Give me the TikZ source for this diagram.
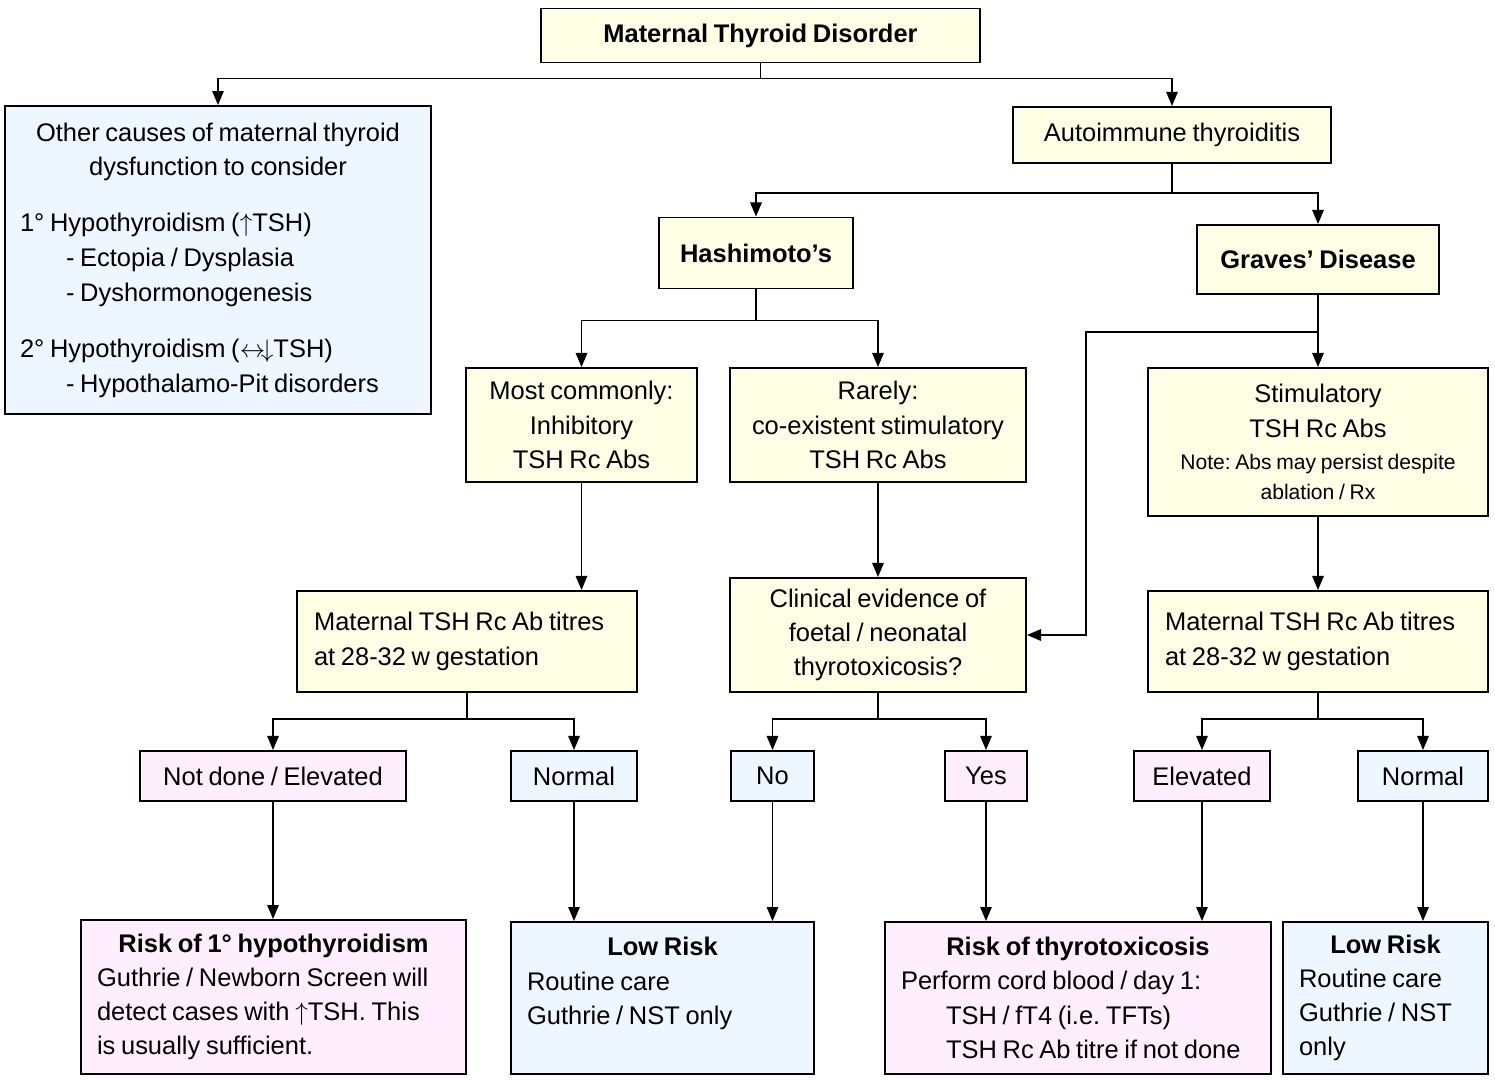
\documentclass[tikz,border=0pt]{standalone}
\usepackage{fontspec}
\setmainfont[WordSpace=0.8]{Liberation Sans}
\usetikzlibrary{arrows.meta}
\frenchspacing

\definecolor{ybg}{HTML}{FFFFE6}
\definecolor{bbg}{HTML}{EEF6FF}
\definecolor{pbg}{HTML}{FFEEFB}
\newcommand{\notefont}{\fontsize{12pt}{16pt}\selectfont}
\newcommand{\up}{$\uparrow$}

\begin{document}
\begin{tikzpicture}[x=0.02cm, y=-0.02cm,
    every node/.style={font=\fontsize{14.5pt}{19.5pt}\selectfont, inner sep=2pt},
    yellowbox/.style={draw, line width=1.1pt, fill=ybg, align=center},
    bluebox/.style={draw, line width=1.1pt, fill=bbg, align=center},
    pinkbox/.style={draw, line width=1.1pt, fill=pbg, align=center},
    lefttext/.style={align=flush left, execute at begin node={\spaceskip=0pt\xspaceskip=0pt\relax}},
    arr/.style={line width=0.9pt, -{Triangle[length=8pt, width=6.5pt]}},
    ln/.style={line width=0.9pt}]
\useasboundingbox (0,0) rectangle (1495,1079);

% top level
\node[yellowbox, minimum width=8.78cm, minimum height=1.08cm] (mtd) at (760.5,35.5) {\textbf{Maternal Thyroid Disorder}};
\node[bluebox, lefttext, minimum width=8.52cm, minimum height=6.16cm, text width=7.92cm,
      font=\fontsize{14.5pt}{19.8pt}\selectfont] (other) at (218,260) {%
    \makebox[\linewidth]{Other causes of maternal thyroid}\\
    \makebox[\linewidth]{dysfunction to consider}\\[12pt]
    1° Hypothyroidism (\up TSH)\\
    \hspace*{0.92cm}- Ectopia / Dysplasia\\
    \hspace*{0.92cm}- Dyshormonogenesis\\[12pt]
    2° Hypothyroidism ($\leftrightarrow\!\downarrow$TSH)\\
    \hspace*{0.92cm}- Hypothalamo-Pit disorders};
\node[yellowbox, minimum width=6.36cm, minimum height=1.12cm] (auto) at (1172,135) {Autoimmune thyroiditis};

% Hashimoto / Graves
\node[yellowbox, minimum width=3.88cm, minimum height=1.42cm] (hash) at (756,253) {\textbf{Hashimoto’s}};
\node[yellowbox, minimum width=4.84cm, minimum height=1.38cm] (graves) at (1318,259.5) {\textbf{Graves’ Disease}};

\node[yellowbox, minimum width=4.62cm, minimum height=2.28cm] (common) at (581.5,425) {Most commonly:\\ Inhibitory\\ TSH Rc Abs};
\node[yellowbox, minimum width=5.92cm, minimum height=2.28cm] (rare) at (878,425) {Rarely:\\ co-existent stimulatory\\ TSH Rc Abs};
\node[yellowbox, minimum width=6.80cm, minimum height=2.96cm] (stim) at (1318,442) {Stimulatory\\ TSH Rc Abs\\[-1.4pt]
    \notefont Note: Abs may persist despite\\[-2.3pt] \notefont ablation / Rx};

% titres and clinical evidence
\node[yellowbox, lefttext, minimum width=6.80cm, minimum height=2.02cm, text width=6.12cm] (titreL) at (467,641.5) {Maternal TSH Rc Ab titres\\ at 28-32 w gestation};
\node[yellowbox, minimum width=5.92cm, minimum height=2.28cm] (clin) at (878,635) {Clinical evidence of\\ foetal / neonatal\\ thyrotoxicosis?};
\node[yellowbox, lefttext, minimum width=6.80cm, minimum height=2.02cm, text width=6.12cm] (titreR) at (1318,641.5) {Maternal TSH Rc Ab titres\\ at 28-32 w gestation};

% results
\node[pinkbox, minimum width=5.32cm, minimum height=1.00cm] (notdone) at (273,776) {Not done / Elevated};
\node[bluebox, minimum width=2.52cm, minimum height=1.00cm] (normL) at (574,776) {Normal};
\node[bluebox, minimum width=1.66cm, minimum height=1.00cm] (no) at (772.5,776) {No};
\node[pinkbox, minimum width=1.64cm, minimum height=1.00cm] (yes) at (986,776) {Yes};
\node[pinkbox, minimum width=2.72cm, minimum height=1.00cm] (elev) at (1202,776) {Elevated};
\node[bluebox, minimum width=2.60cm, minimum height=1.00cm] (normR) at (1423,776) {Normal};

% outcomes
\node[pinkbox, lefttext, minimum width=7.70cm, minimum height=3.08cm, text width=7.06cm] (riskhypo) at (273.5,997) {%
    \makebox[\linewidth]{\textbf{Risk of 1° hypothyroidism}}\\
    Guthrie / Newborn Screen will\\
    detect cases with \up TSH. This\\
    is usually sufficient.};
\node[bluebox, lefttext, minimum width=6.06cm, minimum height=3.04cm, text width=5.42cm] (lowL) at (662.5,998) {%
    \makebox[\linewidth]{\textbf{Low Risk}}\\
    Routine care\\
    Guthrie / NST only\\[-6pt]
    \strut};
\node[pinkbox, lefttext, minimum width=7.72cm, minimum height=3.04cm, text width=7.08cm] (thyro) at (1078,998) {%
    \makebox[\linewidth]{\textbf{Risk of thyrotoxicosis}}\\
    Perform cord blood / day 1:\\
    \hspace*{0.9cm}TSH / fT4 (i.e. TFTs)\\
    \hspace*{0.9cm}TSH Rc Ab titre if not done};
\node[bluebox, lefttext, minimum width=4.10cm, minimum height=3.04cm, text width=3.46cm] (lowR) at (1385.5,998) {%
    \makebox[\linewidth]{\textbf{Low Risk}}\\
    Routine care\\
    Guthrie / NST\\
    only};

% connectors
\draw[ln] (mtd.south) -- ++(0,15) coordinate (m1);
\draw[arr] (m1) -| (other.north);
\draw[arr] (m1) -| (auto.north);

\draw[ln] (auto.south) -- ++(0,29) coordinate (a1);
\draw[arr] (a1) -| (hash.north);
\draw[arr] (a1) -| (graves.north);

\draw[ln] (hash.south) -- ++(0,31) coordinate (h1);
\draw[arr] (h1) -| (common.north);
\draw[arr] (h1) -| (rare.north);

\draw[arr] (graves.south) -- (stim.north);
\draw[arr] (graves.south) ++(0,37) -- ++(-232,0) |- (clin.east);

\draw[arr] (common.south) -- (common.south |- titreL.north);
\draw[arr] (rare.south) -- (clin.north);
\draw[arr] (stim.south) -- (titreR.north);

\draw[ln] (titreL.south) -- ++(0,26) coordinate (t1);
\draw[arr] (t1) -| (notdone.north);
\draw[arr] (t1) -| (normL.north);
\draw[ln] (clin.south) -- ++(0,26) coordinate (c1);
\draw[arr] (c1) -| (no.north);
\draw[arr] (c1) -| (yes.north);
\draw[ln] (titreR.south) -- ++(0,26) coordinate (t2);
\draw[arr] (t2) -| (elev.north);
\draw[arr] (t2) -| (normR.north);

\draw[arr] (notdone.south) -- (notdone.south |- riskhypo.north);
\draw[arr] (normL.south) -- (normL.south |- lowL.north);
\draw[arr] (no.south) -- (no.south |- lowL.north);
\draw[arr] (yes.south) -- (yes.south |- thyro.north);
\draw[arr] (elev.south) -- (elev.south |- thyro.north);
\draw[arr] (normR.south) -- (normR.south |- lowR.north);
\end{tikzpicture}
\end{document}
